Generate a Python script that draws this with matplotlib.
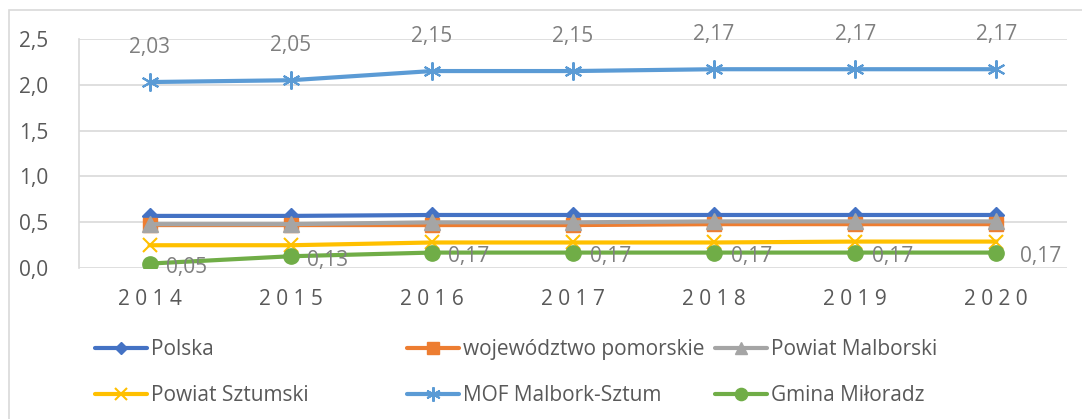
import matplotlib.pyplot as plt
from matplotlib.patches import Rectangle

plt.rcParams['font.family'] = ['Open Sans', 'DejaVu Sans']

years = ['2014', '2015', '2016', '2017', '2018', '2019', '2020']
polska = [0.57, 0.57, 0.58, 0.58, 0.58, 0.58, 0.58]
pomorskie = [0.47, 0.47, 0.47, 0.47, 0.48, 0.48, 0.48]
malborski = [0.48, 0.48, 0.50, 0.50, 0.51, 0.51, 0.51]
sztumski = [0.25, 0.25, 0.28, 0.28, 0.28, 0.29, 0.29]
mof = [2.03, 2.05, 2.15, 2.15, 2.17, 2.17, 2.17]
miloradz = [0.05, 0.13, 0.17, 0.17, 0.17, 0.17, 0.17]

TICK_COL = '#595959'
LABEL_COL = '#7f7f7f'
GRID_COL = '#d9d9d9'

fig = plt.figure(figsize=(10.82, 4.19), dpi=100)
ax = fig.add_axes([0.073, 0.360, 0.913, 0.547])

# outer chart frame
fig.add_artist(Rectangle((9 / 1082, -0.1), 1.2, 1 - 10 / 419 + 0.1, transform=fig.transFigure,
                         fill=False, edgecolor=GRID_COL, lw=1.2))

x = list(range(len(years)))
lw = 3.0
series = [
    ('Polska', polska, dict(color='#4472c4', marker='D', ms=8)),
    ('województwo pomorskie', pomorskie, dict(color='#ed7d31', marker='s', ms=10)),
    ('Powiat Malborski', malborski, dict(color='#a5a5a5', marker='^', ms=11)),
    ('Powiat Sztumski', sztumski, dict(color='#ffc000', marker='x', ms=10, mew=1.5)),
    ('MOF Malbork-Sztum', mof, dict(color='#5b9bd5', marker=(6, 2, 0), ms=13, mew=1.5)),
    ('Gmina Miłoradz', miloradz, dict(color='#70ad47', marker='o', ms=11)),
]
handles = {}
for name, vals, st in series:
    h, = ax.plot(x, vals, lw=lw, label=name, solid_capstyle='round', **st)
    handles[name] = h

for xi, v in zip(x, mof):
    ax.annotate(f'{v:.2f}'.replace('.', ','), (xi, v), xytext=(0, 25), textcoords='offset points',
                ha='center', va='center', fontsize=15, color=LABEL_COL)
for xi, v in zip(x, miloradz):
    dx = 17 if xi == x[-1] else 12
    ax.annotate(f'{v:.2f}'.replace('.', ','), (xi, v), xytext=(dx, -3), textcoords='offset points',
                ha='left', va='center', fontsize=15, color=LABEL_COL)

ax.set_xlim(-0.5, 6.5)
ax.set_ylim(0, 2.5)
ax.set_yticks([0, 0.5, 1.0, 1.5, 2.0, 2.5])
ax.set_yticklabels([f'{t:.1f}'.replace('.', ',') for t in [0, 0.5, 1.0, 1.5, 2.0, 2.5]])
ax.set_xticks(x)
ax.set_xticklabels([' '.join(y) for y in years])
ax.tick_params(axis='both', length=0, labelsize=15, colors=TICK_COL)
ax.tick_params(axis='x', pad=15)
ax.tick_params(axis='y', pad=22)
ax.grid(axis='y', color=GRID_COL, lw=1.2)
ax.set_axisbelow(True)
for s in ['top', 'right', 'bottom']:
    ax.spines[s].set_visible(False)
ax.spines['left'].set_color(GRID_COL)
ax.spines['left'].set_linewidth(1.2)

# legend in three columns
cols = [('Polska', 'Powiat Sztumski'),
        ('województwo pomorskie', 'MOF Malbork-Sztum'),
        ('Powiat Malborski', 'Gmina Miłoradz')]
col_x = [95, 407, 715]
for names, cx in zip(cols, col_x):
    fig.legend([handles[n] for n in names], names, loc='upper left',
               bbox_to_anchor=(cx / 1082, 1 - 339 / 419), frameon=False, fontsize=15,
               labelcolor=TICK_COL, handlelength=2.5, handletextpad=0.2,
               labelspacing=1.2, borderpad=0, borderaxespad=0, markerscale=0.8)

fig.savefig('out.png', dpi=100)
